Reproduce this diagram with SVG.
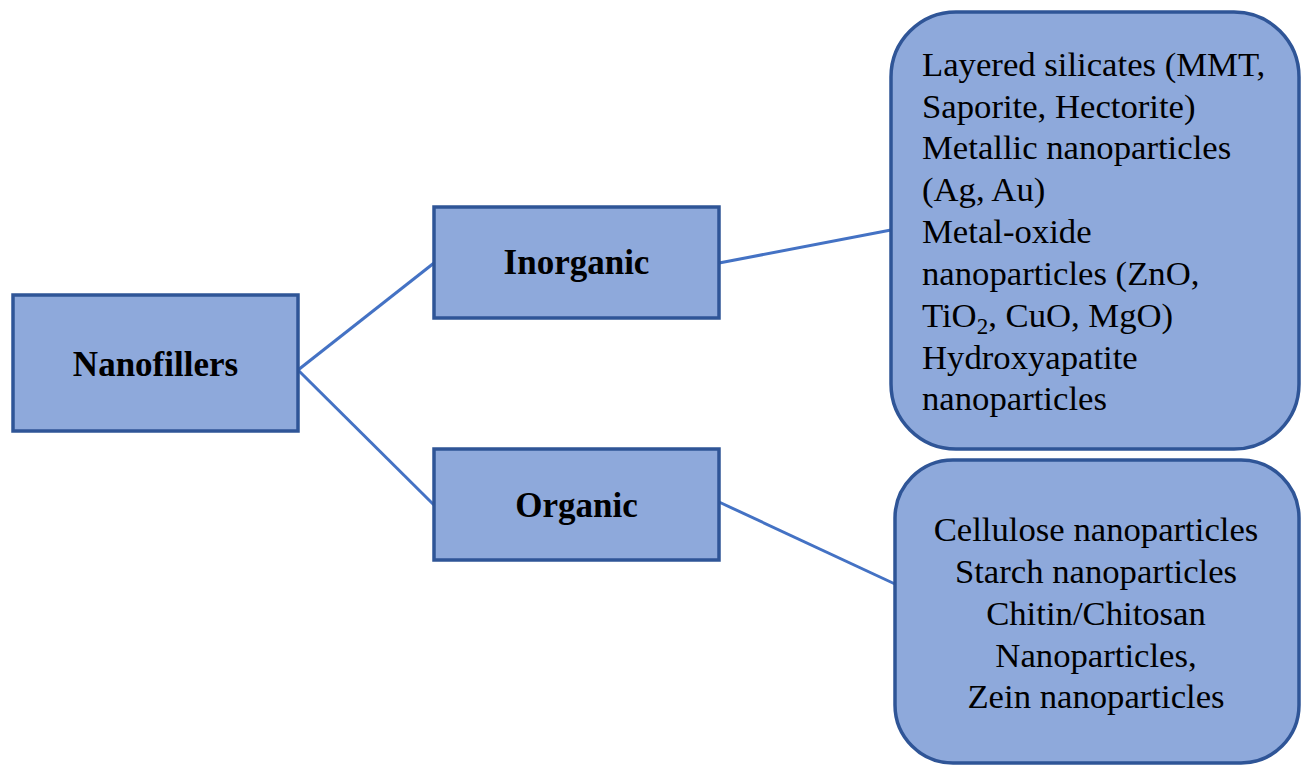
<svg xmlns="http://www.w3.org/2000/svg" width="1301" height="765" viewBox="0 0 1301 765">
<style>
.box{fill:#8EA9DB;stroke:#2F5597;stroke-width:3.5}
.lbl{font-family:"Liberation Serif",serif;font-weight:bold;font-size:35px;fill:#000;text-anchor:middle}
.txt{font-family:"Liberation Serif",serif;font-size:34.7px;fill:#000}
.mid{text-anchor:middle}
.con{stroke:#4472C4;stroke-width:3;fill:none}
</style>
<rect width="1301" height="765" fill="#fff"/>
<g id="connectors">
<line class="con" x1="298" y1="370" x2="434" y2="263"/>
<line class="con" x1="298" y1="370" x2="434" y2="505"/>
<line class="con" x1="719" y1="263" x2="891" y2="230"/>
<line class="con" x1="719" y1="502" x2="895" y2="584"/>
</g>
<g id="nanofillers">
<rect class="box" x="13" y="295" width="285" height="136"/>
<text class="lbl" x="155.5" y="376">Nanofillers</text>
</g>
<g id="inorganic">
<rect class="box" x="434" y="207" width="285" height="111"/>
<text class="lbl" x="576.5" y="274">Inorganic</text>
</g>
<g id="organic">
<rect class="box" x="434" y="449" width="285" height="111"/>
<text class="lbl" x="576.5" y="517">Organic</text>
</g>
<g id="inorganic-list">
<rect class="box" x="891" y="12" width="408" height="437" rx="65" ry="65"/>
<text class="txt" x="922" y="76">Layered silicates (MMT,</text>
<text class="txt" x="922" y="118">Saporite, Hectorite)</text>
<text class="txt" x="922" y="159">Metallic nanoparticles</text>
<text class="txt" x="922" y="201">(Ag, Au)</text>
<text class="txt" x="922" y="243">Metal-oxide</text>
<text class="txt" x="922" y="285">nanoparticles (ZnO,</text>
<text class="txt" x="922" y="327">TiO<tspan font-size="23" dy="7">2</tspan><tspan dy="-7">, CuO, MgO)</tspan></text>
<text class="txt" x="922" y="369">Hydroxyapatite</text>
<text class="txt" x="922" y="410">nanoparticles</text>
</g>
<g id="organic-list">
<rect class="box" x="895" y="460" width="404" height="303" rx="58" ry="58"/>
<text class="txt mid" x="1096" y="541">Cellulose nanoparticles</text>
<text class="txt mid" x="1096" y="583">Starch nanoparticles</text>
<text class="txt mid" x="1096" y="625">Chitin/Chitosan</text>
<text class="txt mid" x="1096" y="667">Nanoparticles,</text>
<text class="txt mid" x="1096" y="708">Zein nanoparticles</text>
</g>
</svg>
